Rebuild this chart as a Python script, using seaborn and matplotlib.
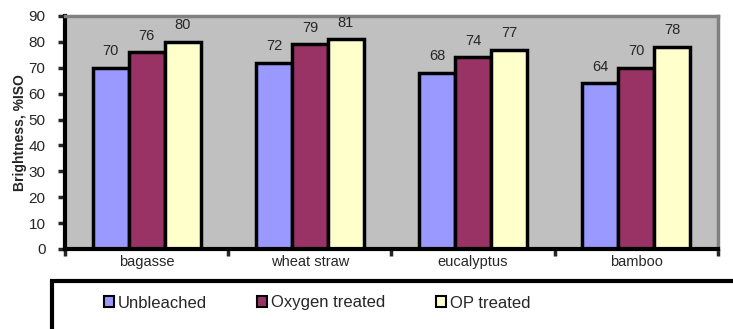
import matplotlib
matplotlib.use("Agg")
import matplotlib.pyplot as plt
import seaborn as sns
import pandas as pd
from matplotlib.patches import Rectangle

categories = ["bagasse", "wheat straw", "eucalyptus", "bamboo"]
series = ["Unbleached", "Oxygen treated", "OP treated"]
unbleached = [70, 72, 68, 64]
oxygen_treated = [76, 79, 74, 70]
op_treated = [80, 81, 77, 78]
colors = ["#9999FF", "#993366", "#FFFFCC"]

rows = []
for name, vals in zip(series, [unbleached, oxygen_treated, op_treated]):
    for cat, v in zip(categories, vals):
        rows.append({"Pulp": cat, "Treatment": name, "Brightness": v})
df = pd.DataFrame(rows)

sns.set_style("white")
plt.rcParams["font.family"] = ["Liberation Sans", "DejaVu Sans"]

fig = plt.figure(figsize=(7.33, 3.29), dpi=100)
ax = fig.add_axes([0.0887, 0.2432, 0.8908, 0.7082])

sns.barplot(data=df, x="Pulp", y="Brightness", hue="Treatment",
            hue_order=series, order=categories, palette=colors,
            width=0.66, edgecolor="black", linewidth=2.5, saturation=1,
            ax=ax, legend=True)

ax.set_facecolor("#C0C0C0")
ax.set_ylim(0, 90)
ax.set_xlim(-0.5, 3.5)
ax.set_yticks(range(0, 91, 10))
ax.tick_params(axis="y", direction="out", length=5, width=2.5, labelsize=11, pad=9, left=True)
ax.set_xticks(range(len(categories)))
ax.set_xticklabels(categories)
ax.set_xticks([-0.5, 0.5, 1.5, 2.5, 3.5], minor=True)
ax.tick_params(axis="x", which="major", length=0, labelsize=10.5, pad=4)
ax.tick_params(axis="x", which="minor", direction="out", length=5, width=2.5, bottom=True)
ax.set_xlabel("")
ax.set_ylabel("Brightness, %ISO", fontsize=10, fontweight="bold", labelpad=1)

for side in ["left", "bottom"]:
    ax.spines[side].set_color("black")
    ax.spines[side].set_linewidth(3)
for side in ["top", "right"]:
    ax.spines[side].set_color("#808080")
    ax.spines[side].set_linewidth(2.5)

for cont in ax.containers:
    ax.bar_label(cont, fmt="%d", padding=7, fontsize=10.5)

handles, labels = ax.get_legend_handles_labels()
ax.get_legend().remove()
for h in handles:
    h.set_linewidth(1.5)

fig.patches.append(Rectangle((52 / 733, -0.05), 0.95, (329 - 281) / 329 + 0.05,
                             transform=fig.transFigure, fill=False,
                             edgecolor="black", linewidth=3, clip_on=False))
fig.legend(handles, labels, loc="center left", bbox_to_anchor=(89 / 733, 26 / 329),
           ncol=3, frameon=False, fontsize=12, handlelength=0.6, handleheight=0.6,
           handletextpad=0.25, columnspacing=3.0)

fig.savefig("out.png", dpi=100)
